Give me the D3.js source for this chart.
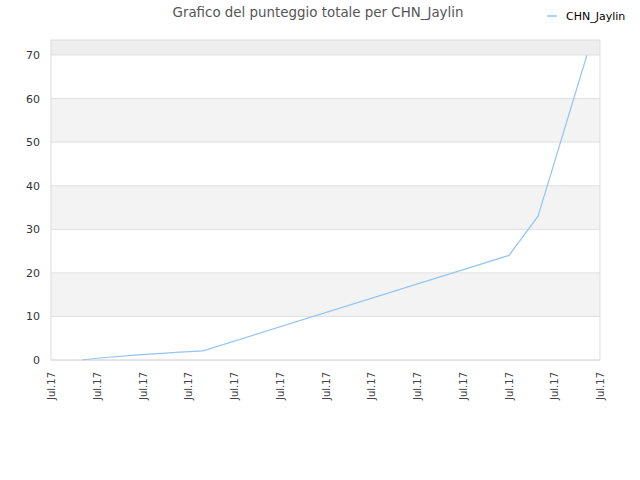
<!DOCTYPE html>
<html>
<head>
<meta charset="utf-8">
<script src="https://cdn.jsdelivr.net/npm/d3@7"></script>
<style>
  body { margin: 0; background: #fff; }
  text { font-family: "DejaVu Sans", sans-serif; }
</style>
</head>
<body>
<div id="chart"></div>
<script>
// data
const seriesName = "CHN_Jaylin"
const dates = ["2017-07-02T08:30", "2017-07-03T00:15", "2017-07-04T16:00", "2017-07-06T15:20",
               "2017-07-07T15:30", "2017-07-21T00:30", "2017-07-22T07:00", "2017-07-24T10:20"]
const scores = [0, 0.4, 1.1, 1.8, 2.1, 24, 33, 70]
const yTicks = [0, 10, 20, 30, 40, 50, 60, 70]
const xTickLabel = "Jul.17"

const W = 640, H = 480
const margin = {top: 40, right: 40, bottom: 120, left: 51}
const width = W - margin.left - margin.right
const height = H - margin.top - margin.bottom

const parse = d3.timeParse("%Y-%m-%dT%H:%M")
const data = dates.map((d, i) => ({date: parse(d), value: scores[i]}))

const svg = d3.select("#chart").append("svg")
    .attr("width", W)
    .attr("height", H)

svg.append("text")
    .attr("x", 318).attr("y", 17)
    .attr("text-anchor", "middle")
    .style("font-size", "13.4px")
    .style("fill", "#555")
    .text("Grafico del punteggio totale per " + seriesName)

// legend
svg.append("line")
    .attr("x1", 547).attr("x2", 557).attr("y1", 16).attr("y2", 16)
    .attr("stroke", "#94c5f4").attr("stroke-width", 1.5)
svg.append("text")
    .attr("x", 566).attr("y", 20)
    .style("font-size", "11px")
    .style("fill", "#000")
    .text(seriesName)

const g = svg.append("g")
    .attr("transform", `translate(${margin.left},${margin.top})`)

const xScale = d3.scaleTime()
    .domain([parse("2017-07-01T00:00"), parse("2017-07-25T00:00")])
    .range([0, width])

const yScale = d3.scaleLinear()
    .domain([0, 70])
    .range([height, 15])

// background bands
g.append("rect")
    .attr("x", 0).attr("y", 0)
    .attr("width", width).attr("height", yScale(70))
    .attr("fill", "#eeeeee")
const bands = d3.range(0, 70, 10)
g.selectAll(".band")
    .data(bands)
    .join("rect")
    .attr("class", "band")
    .attr("x", 0)
    .attr("y", d => yScale(d + 10))
    .attr("width", width)
    .attr("height", d => yScale(d) - yScale(d + 10))
    .attr("fill", (d, i) => i % 2 ? "#f3f3f3" : "#ffffff")

// grid lines
g.selectAll(".grid")
    .data(yTicks)
    .join("line")
    .attr("class", "grid")
    .attr("x1", 0).attr("x2", width)
    .attr("y1", d => yScale(d)).attr("y2", d => yScale(d))
    .attr("stroke", "#e0e0e0")

// frame
g.append("rect")
    .attr("x", 0).attr("y", 0)
    .attr("width", width).attr("height", height)
    .attr("fill", "none")
    .attr("stroke", "#dcdcdc")

const yAxis = d3.axisLeft(yScale)
    .tickValues(yTicks)
    .tickSize(0)
    .tickPadding(11)
const yGroup = g.append("g").call(yAxis)
yGroup.select(".domain").remove()
yGroup.selectAll("text")
    .style("font-size", "11px")
    .style("fill", "#333")

const xTicks = d3.timeDay.every(2).range(parse("2017-07-01T00:00"), parse("2017-07-25T12:00"))
const xAxis = d3.axisBottom(xScale)
    .tickValues(xTicks)
    .tickFormat(() => xTickLabel)
    .tickSize(0)
const xGroup = g.append("g")
    .attr("transform", `translate(0,${height})`)
    .call(xAxis)
xGroup.select(".domain").remove()
xGroup.selectAll("text")
    .style("font-size", "10px")
    .style("fill", "#444")
    .attr("text-anchor", "end")
    .attr("transform", "rotate(-90)")
    .attr("x", -12)
    .attr("y", 0)
    .attr("dy", "0.35em")

const line = d3.line()
    .x(d => xScale(d.date))
    .y(d => yScale(d.value))

g.append("path")
    .datum(data)
    .attr("fill", "none")
    .attr("stroke", "#94c5f4")
    .attr("stroke-width", 1.2)
    .attr("d", line)
</script>
</body>
</html>
